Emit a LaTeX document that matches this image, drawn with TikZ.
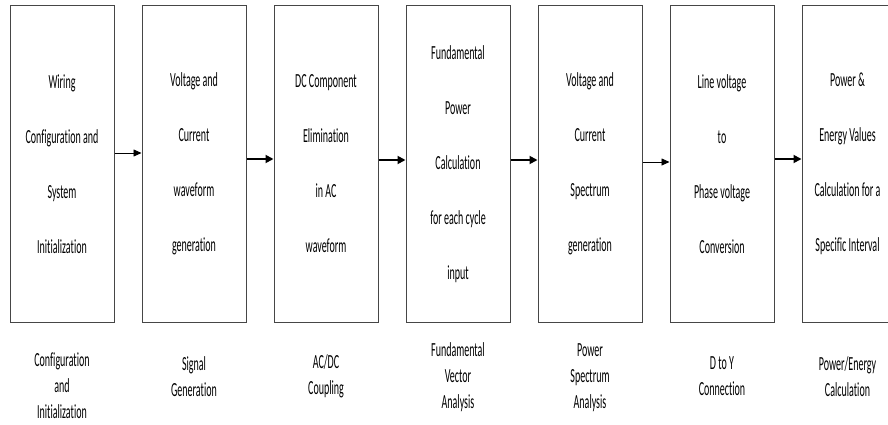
\documentclass[tikz,border=0pt]{standalone}
\usepackage{fontspec}
\setmainfont[FakeStretch=0.5, Ligatures=NoCommon]{Carlito}
\usepackage{tikz}
\usetikzlibrary{arrows.meta, positioning}
\definecolor{edge}{RGB}{70,70,70}

\begin{document}
\begin{tikzpicture}[x=1pt, y=1pt, node distance=27pt,
  stage/.style={rectangle, draw=edge, line width=1pt, fill=white,
                minimum width=104pt, minimum height=316pt, align=center,
                inner sep=0pt, font=\fontsize{20}{55}\selectfont},
  lbl/.style={align=center, font=\fontsize{20}{26}\selectfont},
  a/.style={-{Triangle[length=8pt, width=8pt]}, line width=1.8pt},
  athin/.style={-{Triangle[length=8pt, width=7pt]}, line width=0.8pt}]
  \useasboundingbox (0,0) rectangle (888,-425);
  \node[stage] (wiring) at (62,-164) {Wiring\\Configuration and\\System\\Initialization};
  \node[stage, right=of wiring] (signal) {Voltage and\\Current\\waveform\\generation};
  \node[stage, right=of signal] (dcelim) {DC Component\\Elimination\\in AC\\waveform};
  \node[stage, right=of dcelim] (fund) {Fundamental\\Power\\Calculation\\for each cycle\\input};
  \node[stage, right=of fund] (spec) {Voltage and\\Current\\Spectrum\\generation};
  \node[stage, right=of spec] (dtoy) {Line voltage\\to\\Phase voltage\\Conversion};
  \node[stage, right=of dtoy, minimum width=91pt] (energy) {Power \&\\Energy Values\\Calculation for a\\Specific Interval};
  % captions under the stages
  \node[lbl] (wiringl) at ([yshift=-63pt]wiring.south) {Configuration\\and\\Initialization};
  \node[lbl] (signall) at ([yshift=-54pt]signal.south) {Signal\\Generation};
  \node[lbl] (dceliml) at ([yshift=-54pt]dcelim.south) {AC/DC\\Coupling};
  \node[lbl] (fundl) at ([yshift=-55pt]fund.south) {Fundamental\\Vector\\Analysis};
  \node[lbl] (specl) at ([yshift=-55pt]spec.south) {Power\\Spectrum\\Analysis};
  \node[lbl] (dtoyl) at ([yshift=-54pt]dtoy.south) {D to Y\\Connection};
  \node[lbl] (energyl) at ([yshift=-54pt]energy.south) {Power/Energy\\Calculation};
  \draw[athin] ([yshift=11pt]wiring.east) -- ([yshift=11pt]signal.west);
  \draw[a] ([yshift=5pt]signal.east) -- ([yshift=5pt]dcelim.west);
  \draw[a] ([yshift=4pt]dcelim.east) -- ([yshift=4pt]fund.west);
  \draw[a] ([yshift=4pt]fund.east) -- ([yshift=4pt]spec.west);
  \draw[athin] ([yshift=2pt]spec.east) -- ([yshift=2pt]dtoy.west);
  \draw[a] ([yshift=5pt]dtoy.east) -- ([yshift=5pt]energy.west);
\end{tikzpicture}
\end{document}
